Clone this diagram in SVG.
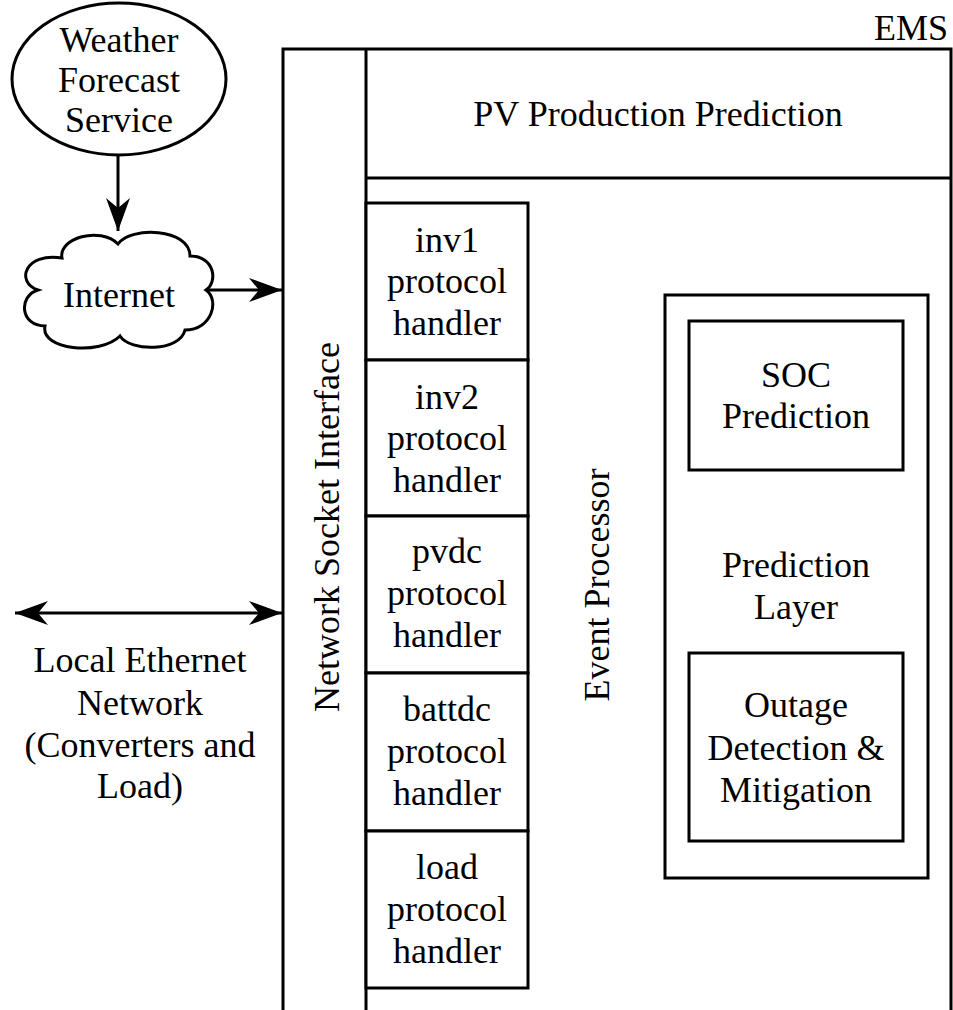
<svg xmlns="http://www.w3.org/2000/svg" width="953" height="1010" viewBox="0 0 953 1010" font-family="Liberation Serif, Times New Roman, serif">
<style>
text{font-family:'Liberation Serif','Times New Roman',serif;font-size:36px;fill:#000;text-anchor:middle}
.b{fill:#fff;stroke:#000;stroke-width:3}
.l{fill:none;stroke:#000;stroke-width:3}
</style>
<defs>
<marker id="ah" markerUnits="userSpaceOnUse" markerWidth="40" markerHeight="30" viewBox="-35 -15 40 30" refX="0" refY="0" orient="auto-start-reverse">
<path d="M0,0 L-33,-12 L-23,0 L-33,12 Z" fill="#000"/>
</marker>
</defs>
<rect width="953" height="1010" fill="#fff"/>
<g id="ems">
<path class="l" d="M283 1012 L283 49 L951 49 L951 1012"/>
<line class="l" x1="366" y1="49" x2="366" y2="1012"/>
<text x="948" y="40" style="text-anchor:end">EMS</text>
</g>
<g id="network-socket-interface">
<text transform="translate(339 527) rotate(-90)">Network Socket Interface</text>
</g>
<g id="pv-production-prediction">
<path class="l" d="M366 178 L951 178"/>
<text x="658" y="126">PV Production Prediction</text>
</g>
<g id="event-processor">
<text transform="translate(609 585) rotate(-90)">Event Processor</text>
</g>
<g id="inv1-handler">
<rect class="b" x="366" y="203" width="162" height="157"/>
<text x="447" y="252">inv1</text><text x="447" y="293">protocol</text><text x="447" y="335">handler</text>
</g>
<g id="inv2-handler">
<rect class="b" x="366" y="360" width="162" height="156"/>
<text x="447" y="409">inv2</text><text x="447" y="450">protocol</text><text x="447" y="492">handler</text>
</g>
<g id="pvdc-handler">
<rect class="b" x="366" y="516" width="162" height="157"/>
<text x="447" y="563">pvdc</text><text x="447" y="605">protocol</text><text x="447" y="647">handler</text>
</g>
<g id="battdc-handler">
<rect class="b" x="366" y="673" width="162" height="158"/>
<text x="447" y="721">battdc</text><text x="447" y="763">protocol</text><text x="447" y="805">handler</text>
</g>
<g id="load-handler">
<rect class="b" x="366" y="831" width="162" height="157"/>
<text x="447" y="879">load</text><text x="447" y="921">protocol</text><text x="447" y="963">handler</text>
</g>
<g id="prediction-layer">
<rect class="b" x="665" y="295" width="263" height="583"/>
<text x="796" y="577">Prediction</text><text x="796" y="619">Layer</text>
</g>
<g id="soc-prediction">
<rect class="b" x="689" y="321" width="214" height="149"/>
<text x="796" y="387">SOC</text><text x="796" y="428">Prediction</text>
</g>
<g id="outage-detection">
<rect class="b" x="689" y="653" width="214" height="188"/>
<text x="796" y="717">Outage</text><text x="796" y="760">Detection &amp;</text><text x="796" y="802">Mitigation</text>
</g>
<g id="weather-forecast-service">
<ellipse class="b" cx="119" cy="79" rx="107" ry="76"/>
<text x="119" y="52">Weather</text><text x="119" y="92">Forecast</text><text x="119" y="132">Service</text>
</g>
<g id="internet">
<path class="b" d="M62 258 C58 238 100 226 118 244 C130 226 190 228 190 256 C215 256 218 282 206 290 C220 300 212 330 185 330 C180 352 130 352 120 336 C100 356 40 350 45 326 C20 326 18 296 38 290 C15 282 25 252 62 258 Z"/>
<text x="119" y="307">Internet</text>
</g>
<g id="local-ethernet-network">
<text x="140" y="672">Local Ethernet</text><text x="140" y="715">Network</text><text x="140" y="757">(Converters and</text><text x="140" y="798">Load)</text>
</g>
<g id="connectors">
<line class="l" x1="118" y1="156" x2="118" y2="231" marker-end="url(#ah)"/>
<line class="l" x1="207" y1="290" x2="282" y2="290" marker-end="url(#ah)"/>
<line class="l" x1="15" y1="613" x2="282" y2="613" marker-start="url(#ah)" marker-end="url(#ah)"/>
</g>
</svg>
